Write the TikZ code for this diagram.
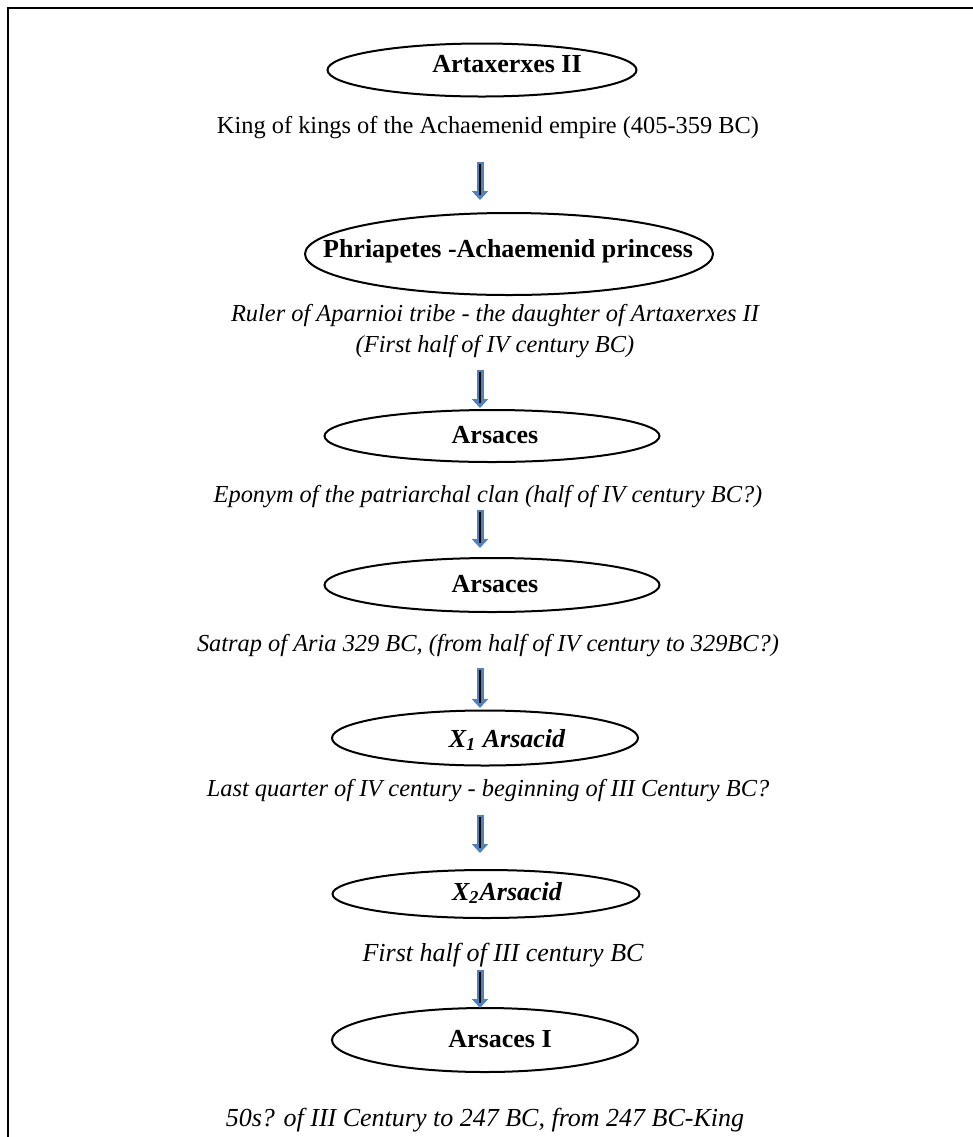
\documentclass[tikz,border=0pt]{standalone}
\usepackage{fontspec}
\setmainfont{Liberation Serif}
\usepackage{xcolor}
\usetikzlibrary{arrows.meta,shapes.geometric}
\definecolor{arrowblue}{HTML}{4F81BD}

\begin{document}
\begin{tikzpicture}[x=0.5pt,y=-0.5pt,
  oval/.style={ellipse,draw,line width=1pt,inner sep=0pt,outer sep=0pt},
  person/.style={font=\fontsize{13}{15.5}\selectfont\bfseries,inner sep=0pt,anchor=base},
  note/.style={font=\fontsize{12.2}{15.5}\selectfont,inner sep=0pt,anchor=base},
  lifespan/.style={note,font=\fontsize{12.2}{15.5}\selectfont\itshape},
  flow/.style={arrowblue,line width=3.5pt,-{Triangle[width=8pt,length=4.5pt]}},
  flowcore/.style={black,line width=1pt}]
\useasboundingbox (0,0) rectangle (973,1137);
\draw[line width=1pt] (8,1137) -- (8,8) -- (973,8);
\coordinate (ax) at (480,0);

\node[oval,minimum width=154.5pt,minimum height=26.5pt] (artax) at (482,70) {};
\node[person] (artaxname) at (507,72) {Artaxerxes II};
\node[note] (artaxnote) at (488,133) {King of kings of the Achaemenid empire (405-359 BC)};

\node[oval,minimum width=204pt,minimum height=41pt] (phri) at (509,254) {};
\node[person] (phriname) at (508,257) {Phriapetes -Achaemenid princess};
\node[lifespan,anchor=north,align=center] (phrinote) at (495,304)
  {Ruler of Aparnioi tribe - the daughter of Artaxerxes II\\(First half of IV century BC)};

\node[oval,minimum width=167.5pt,minimum height=26pt] (arsA) at (492,436) {};
\node[person] (arsAname) at (495,443) {Arsaces};
\node[lifespan] (arsAnote) at (488,502) {Eponym of the patriarchal clan (half of IV century BC?)};

\node[oval,minimum width=167.5pt,minimum height=27pt] (arsB) at (492,585) {};
\node[person] (arsBname) at (495,592) {Arsaces};
\node[lifespan] (arsBnote) at (488,651) {Satrap of Aria 329 BC, (from half of IV century to 329BC?)};

\node[oval,minimum width=153pt,minimum height=27.5pt] (xone) at (485,738) {};
\node[person,font=\fontsize{13}{15.5}\selectfont\bfseries\itshape] (xonename) at (507,747) {X\textsubscript{1} Arsacid};
\node[lifespan] (xonenote) at (488,796) {Last quarter of IV century - beginning of III Century BC?};

\node[oval,minimum width=153.5pt,minimum height=24pt] (xtwo) at (486,894) {};
\node[person,font=\fontsize{13}{15.5}\selectfont\bfseries\itshape] (xtwoname) at (507,900) {X\textsubscript{2}Arsacid};
\node[lifespan,font=\fontsize{13}{15.5}\selectfont\itshape] (xtwonote) at (503,961) {First half of III century BC};

\node[oval,minimum width=153pt,minimum height=32pt] (arsI) at (485,1040) {};
\node[person] (arsIname) at (500,1047) {Arsaces I};
\node[lifespan,font=\fontsize{13}{15.5}\selectfont\itshape] (arsInote) at (485,1126) {50s? of III Century to 247 BC, from 247 BC-King};

% descent arrows
\foreach \a/\b/\s/\e in {artaxnote/phri/11.7pt/6.5pt, phrinote/arsA/5.7pt/1pt,
  arsAnote/arsB/1.2pt/5pt, arsBnote/xone/5.7pt/1.25pt,
  xonenote/xtwo/6.7pt/8.5pt, xtwonote/arsI/1.7pt/0pt}{
  \draw[flow,shorten <=\s,shorten >=\e] (\a.south -| ax) -- (\b.north -| ax);
  \draw[flowcore,shorten <=\s+1pt,shorten >=\e+2.5pt] (\a.south -| ax) -- (\b.north -| ax);
}
\end{tikzpicture}
\end{document}
